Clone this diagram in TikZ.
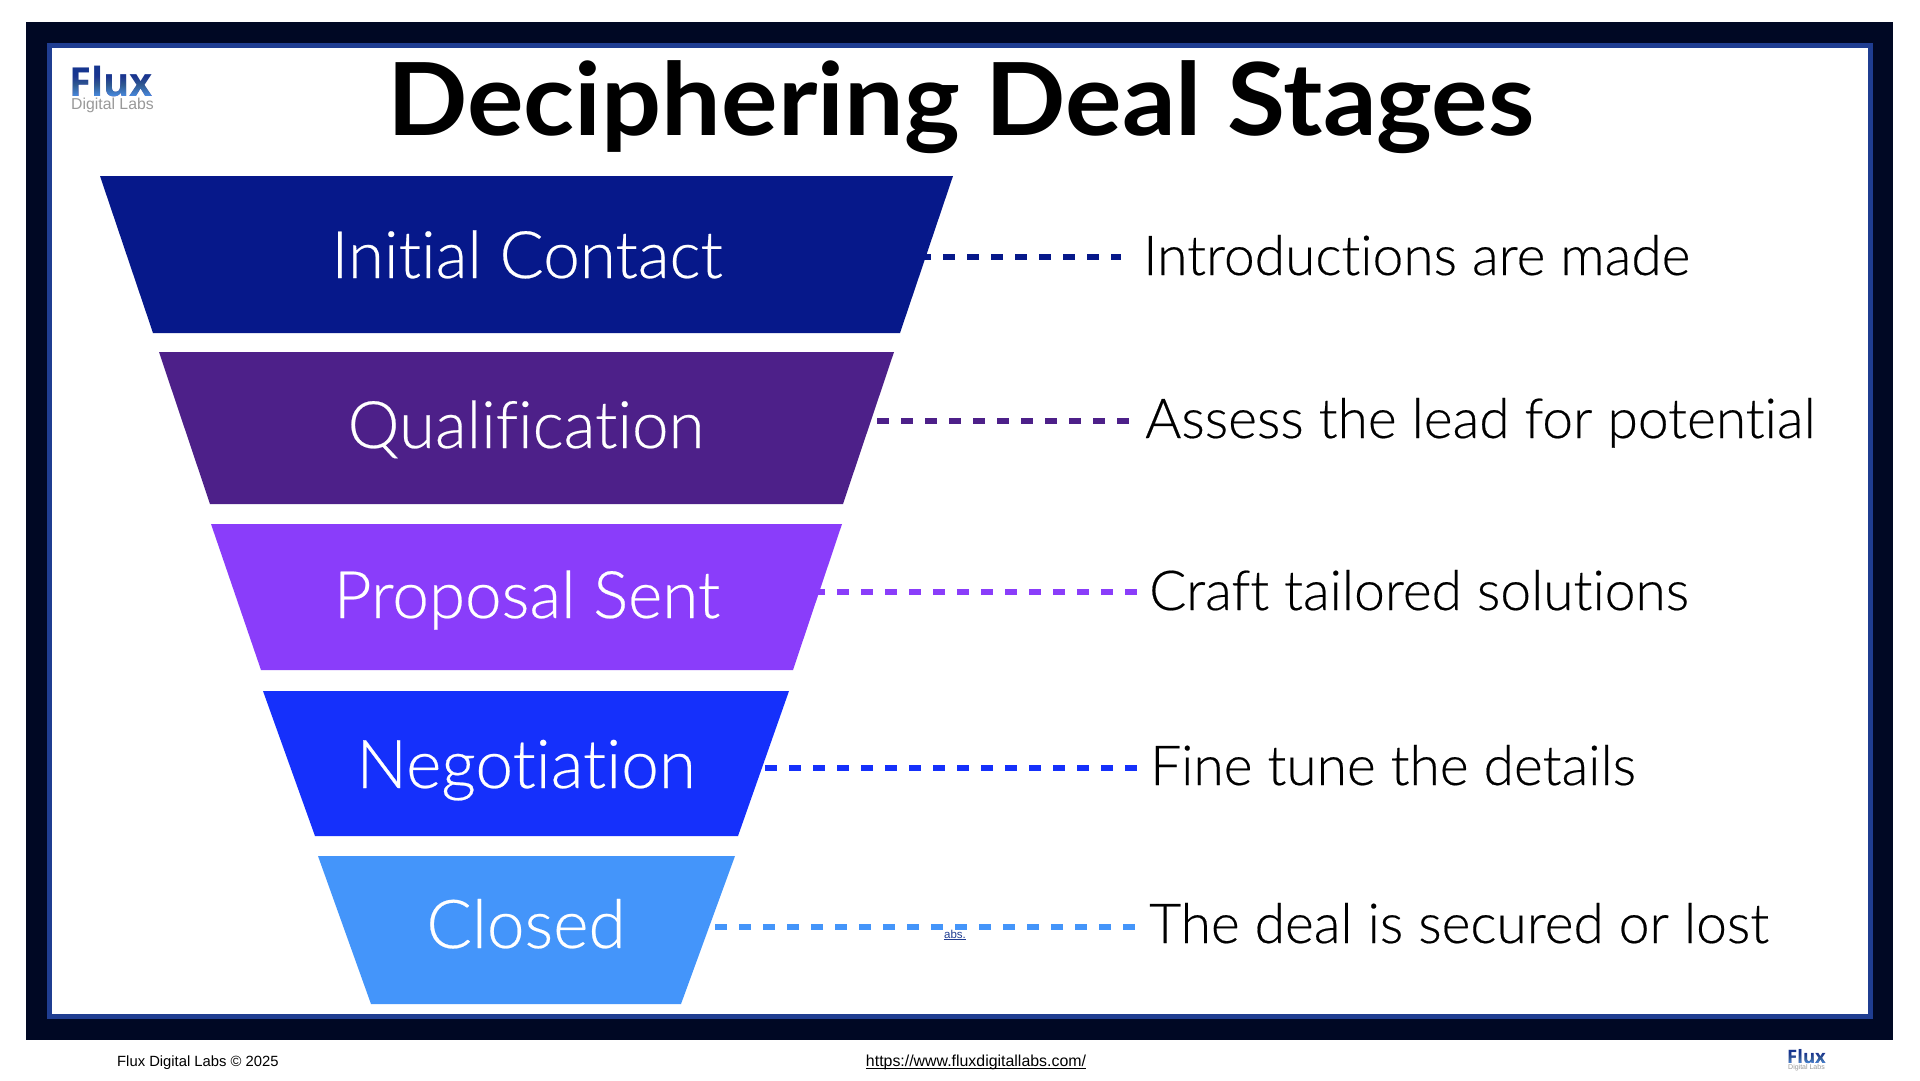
\documentclass[tikz,border=0pt]{standalone}
\usepackage{fontspec}
\setmainfont{Open Sans}
\newfontfamily\labf{Lato Light}[RawFeature={-liga;-dlig;-clig},FakeBold=0.35]
\newfontfamily\titf{Lato}[BoldFont=* Bold,RawFeature={-liga;-dlig;-clig}]
\newfontfamily\footf{Liberation Sans}
\newfontfamily\logof{Open Sans}[BoldFont=* Bold]
\definecolor{navy}{HTML}{000824}
\definecolor{rim}{HTML}{1F3D91}
\definecolor{ca}{HTML}{06188A}
\definecolor{cb}{HTML}{4D2089}
\definecolor{cc}{HTML}{8A3DFA}
\definecolor{cd}{HTML}{1530FB}
\definecolor{ce}{HTML}{4495FA}
\definecolor{fluxdark}{HTML}{16358F}
\definecolor{fluxlight}{HTML}{4C8FE6}
\tikzset{x=1pt,y=-1pt,
  stagetext/.style={anchor=base,inner sep=0pt,text=white,font=\labf\fontsize{65.5}{65.5}\selectfont},
  desc/.style={anchor=base west,inner sep=0pt,text=black,font=\labf\fontsize{55.1}{55.1}\selectfont},
  leader/.style={line width=6pt,dash pattern=on 12pt off 12pt},
  foot/.style={inner sep=0pt,text=black,font=\footf\fontsize{14.8}{14.8}\selectfont}
}
\begin{document}
\begin{tikzpicture}
\useasboundingbox (0,0) rectangle (1920,1080);
\fill[white] (0,0) rectangle (1920,1080);
\fill[navy] (26,22) rectangle (1893,1040);
\fill[rim] (47,43) rectangle (1873,1019);
\fill[white] (52,48) rectangle (1868,1014);
\node[anchor=base,inner sep=0pt,xscale=1.05,transform shape,font=\titf\bfseries\fontsize{100.8}{100.8}\selectfont] (title) at (961,135) {Deciphering Deal Stages};

\fill[ca] (100,176) -- (953,176) -- (900,333) -- (153,333) -- cycle;
\fill[cb] (159,352) -- (894,352) -- (843,504) -- (210,504) -- cycle;
\fill[cc] (211,524) -- (842,524) -- (793,670) -- (261,670) -- cycle;
\fill[cd] (263,691) -- (789,691) -- (738,836) -- (315,836) -- cycle;
\fill[ce] (318,856) -- (735,856) -- (681,1004) -- (371,1004) -- cycle;

\node[stagetext] (s1) at (527,278) {Initial Contact};
\node[stagetext] (s2) at (526,448) {Qualification};
\node[stagetext] (s3) at (527,618) {Proposal Sent};
\node[stagetext,font=\labf\fontsize{67.5}{67.5}\selectfont] (s4) at (526,788) {Negotiation};
\node[stagetext,font=\labf\fontsize{67.5}{67.5}\selectfont] (s5) at (526,948) {Closed};

\node[desc] (t1) at (1143,275) {Introductions are made};
\node[desc] (t2) at (1145,438) {Assess the lead for potential};
\node[desc] (t3) at (1149,610) {Craft tailored solutions};
\node[desc] (t4) at (1150,785) {Fine tune the details};
\node[desc] (t5) at (1149,943) {The deal is secured or lost};

\coordinate (a1) at (919,257); \coordinate (e1) at (1121,257);
\coordinate (a2) at (877,421); \coordinate (e2) at (1129,421);
\coordinate (a3) at (813,592); \coordinate (e3) at (1137,592);
\coordinate (a4) at (765,768); \coordinate (e4) at (1137,768);
\coordinate (a5) at (715,927); \coordinate (e5) at (1135,927);
\draw[leader,ca] (a1) -- (e1);
\draw[leader,cb] (a2) -- (e2);
\draw[leader,cc] (a3) -- (e3);
\draw[leader,cd] (a4) -- (e4);
\draw[leader,ce] (a5) -- (e5);

\node[anchor=base,inner sep=0pt,text=rim,font=\footf\fontsize{11.5}{11.5}\selectfont] (abs) at (955,938) {abs.};
\draw[rim,line width=.7pt] ([yshift=-1.2pt]abs.base west) -- ([yshift=-1.2pt]abs.base east);

\node[anchor=base west,inner sep=0pt,text=fluxdark,font=\logof\bfseries\fontsize{40}{40}\selectfont] (flux) at (69,96) {Flux};
\begin{scope}[blend mode=lighten]
\shade[top color=black,bottom color=fluxlight] (68,64) rectangle (158,97);
\end{scope}
\node[anchor=base west,inner sep=0pt,text=black!40!white,font=\footf\fontsize{15.8}{15.8}\selectfont] (sub) at (71,109) {Digital Labs};

\node[foot,anchor=base west] (copy) at (117,1066) {Flux Digital Labs © 2025};
\node[foot,anchor=base,font=\footf\fontsize{15.9}{15.9}\selectfont] (url) at (976,1066) {https://www.fluxdigitallabs.com/};
\draw[black,line width=.9pt] ([yshift=-2pt]url.base west) -- ([yshift=-2pt]url.base east);
\node[anchor=base west,inner sep=0pt,text=fluxdark,font=\logof\bfseries\fontsize{18.5}{18.5}\selectfont] (flux2) at (1787,1063) {Flux};
\begin{scope}[blend mode=lighten]
\shade[top color=black,bottom color=fluxlight] (1785,1047) rectangle (1830,1064);
\end{scope}
\node[anchor=base west,inner sep=0pt,text=black!40!white,font=\footf\fontsize{7}{7}\selectfont] (sub2) at (1788,1069) {Digital Labs};
\end{tikzpicture}
\end{document}
